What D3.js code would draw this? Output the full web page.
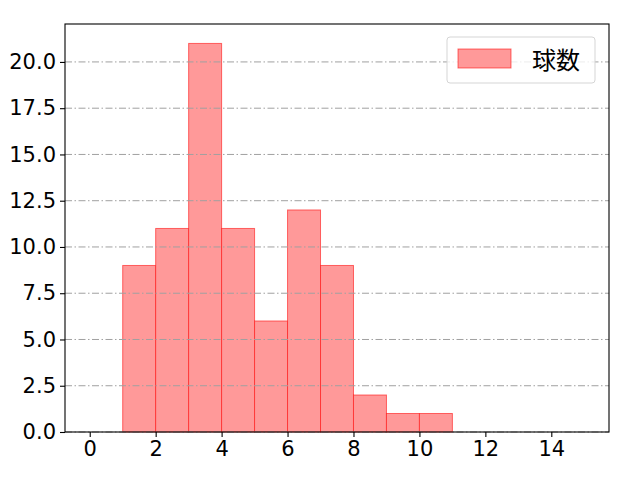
<!DOCTYPE html>
<html>
<head>
<meta charset="utf-8">
<script src="https://cdn.jsdelivr.net/npm/d3@7"></script>
<style>
  body { margin: 0; background: #fff; }
  text { font-family: "Noto Sans CJK JP", "DejaVu Sans", sans-serif; }
  .tick text { font-family: "DejaVu Sans", sans-serif; }
</style>
</head>
<body>
<svg id="chart" width="640" height="480"></svg>
<script>
// histogram bins: left edge, right edge, count
const binStarts = [1, 2, 3, 4, 5, 6, 7, 8, 9, 10];
const binEnds = [2, 3, 4, 5, 6, 7, 8, 9, 10, 11];
const counts = [9, 11, 21, 11, 6, 12, 9, 2, 1, 1];
const xTicks = [0, 2, 4, 6, 8, 10, 12, 14];
const yTicks = [0, 2.5, 5, 7.5, 10, 12.5, 15, 17.5, 20];
const seriesName = "球数";

const svg = d3.select('#chart');
const plotL = 65, plotR = 609, plotT = 24, plotB = 432;

const x = d3.scaleLinear()
  .domain([-0.75, 15.75])
  .range([plotL, plotR]);
const y = d3.scaleLinear()
  .domain([0, 22.05])
  .range([plotB, plotT]);

// bars
svg.append("g")
  .selectAll("rect")
  .data(counts)
  .join("rect")
    .attr("x", (d, i) => x(binStarts[i]))
    .attr("width", (d, i) => x(binEnds[i]) - x(binStarts[i]))
    .attr("y", d => y(d))
    .attr("height", d => y(0) - y(d))
    .attr("fill", "rgb(255,153,153)")
    .attr("stroke", "rgba(255,0,0,0.55)")
    .attr("stroke-width", 1);

// grid (y only)
svg.append("g")
  .selectAll("line")
  .data(yTicks)
  .join("line")
    .attr("x1", plotL)
    .attr("x2", plotR)
    .attr("y1", d => y(d))
    .attr("y2", d => y(d))
    .attr("stroke", "#a0a0a0")
    .attr("stroke-width", 1)
    .attr("stroke-dasharray", "7,2.5,1.5,2.5");

// axes
const xAxis = svg.append("g")
  .attr("transform", `translate(0,${plotB})`)
  .call(d3.axisBottom(x).tickValues(xTicks).tickSize(5).tickPadding(4).tickFormat(d3.format("d")));
const yAxis = svg.append("g")
  .attr("transform", `translate(${plotL},0)`)
  .call(d3.axisLeft(y).tickValues(yTicks).tickSize(5).tickPadding(4).tickFormat(d3.format(".1f")));
[xAxis, yAxis].forEach(a => {
  a.attr("font-family", null).attr("font-size", null);
  a.select(".domain").remove();
  a.selectAll("text").attr("font-size", 21).attr("fill", "#000");
  a.selectAll("line").attr("stroke", "#000").attr("stroke-width", 1.1);
});

// frame
svg.append("rect")
  .attr("x", plotL).attr("y", plotT)
  .attr("width", plotR - plotL).attr("height", plotB - plotT)
  .attr("fill", "none").attr("stroke", "#000").attr("stroke-width", 1.1);

// legend
const lg = svg.append("g");
lg.append("rect")
  .attr("x", 447).attr("y", 37).attr("width", 148).attr("height", 46).attr("rx", 3)
  .attr("fill", "rgba(255,255,255,0.8)").attr("stroke", "#d5d5d5");
lg.append("rect")
  .attr("x", 458).attr("y", 49).attr("width", 53).attr("height", 19)
  .attr("fill", "rgb(255,153,153)").attr("stroke", "rgba(255,0,0,0.55)");
lg.append("text")
  .attr("x", 532).attr("y", 69)
  .attr("font-size", 24).attr("fill", "#000")
  .text(seriesName);
</script>
</body>
</html>
